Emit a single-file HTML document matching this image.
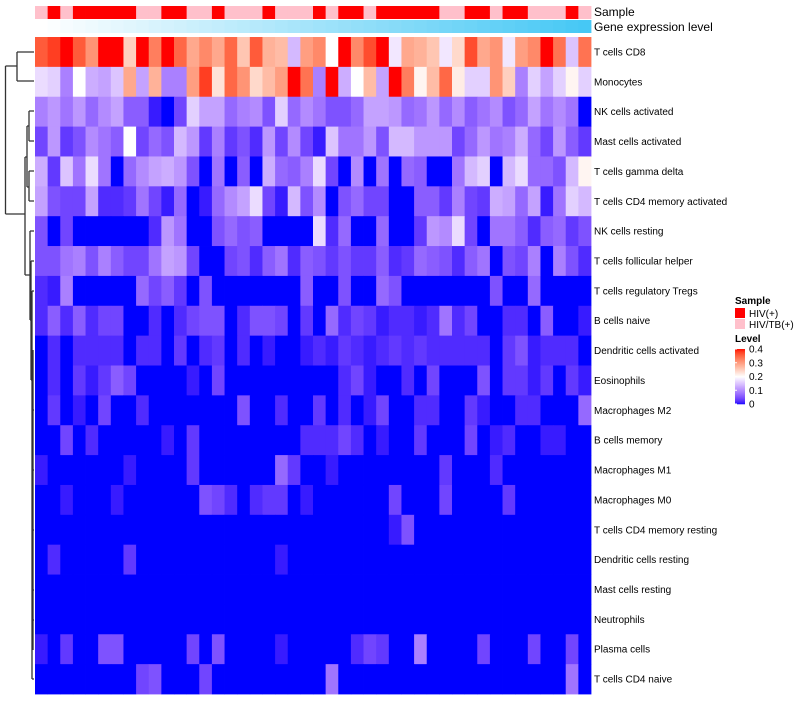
<!DOCTYPE html>
<html><head><meta charset="utf-8">
<style>
body{margin:0;background:#fff;font-family:"Liberation Sans",sans-serif;}
svg text{font-family:"Liberation Sans",sans-serif;}
</style></head>
<body>
<svg id="chart" width="800" height="700" xmlns="http://www.w3.org/2000/svg">
  <g id="dendro" stroke="#333" stroke-width="1.3" fill="none">
    <path d="M5.5,66 V214 M5.5,66 H17 M5.5,214 H25"/>
    <path d="M17,52 V81 M17,52 H34 M17,81 H34"/>
    <path d="M25,157 V275 M25,157 H27 M25,275 H30"/>
    <path d="M27,126 V187 M27,126 H29 M27,187 H29"/>
    <path d="M29,111 V141 M29,111 H34 M29,141 H34"/>
    <path d="M29,171 V201 M29,171 H34 M29,201 H34"/>
    <path d="M30,231 V320 M30,231 H34 M30,320 H31"/>
    <path d="M31,261 V380 M31,261 H34 M31,380 H32"/>
    <path d="M32,291 V679 M32,291 H34 M32,679 H34"/>
    <path d="M33,350 V650 M33,410 H34 M33,470 H34 M33,530 H34 M33,590 H34 M33,620 H34"/>
  </g>
  <g id="annot"></g>
  <g id="cells"></g>
  <g id="rowlabels" font-size="10" fill="#000"></g>
  <text x="594" y="16" font-size="12">Sample</text>
  <text x="594" y="31" font-size="12">Gene expression level</text>
  <g>
    <text x="735" y="304" font-size="10" font-weight="bold">Sample</text>
    <rect x="735" y="308" width="10" height="10" fill="#ff0000"/>
    <text x="749" y="317" font-size="10">HIV(+)</text>
    <rect x="735" y="319" width="10" height="10" fill="#ffc0cb"/>
    <text x="749" y="328" font-size="10">HIV/TB(+)</text>
    <text x="735" y="342" font-size="10" font-weight="bold">Level</text>
    <g id="colorbar"></g>
  </g>
</svg>
<script>
const rowNames=["T cells CD8","Monocytes","NK cells activated","Mast cells activated","T cells gamma delta","T cells CD4 memory activated","NK cells resting","T cells follicular helper","T cells regulatory  Tregs","B cells naive","Dendritic cells activated","Eosinophils","Macrophages M2","B cells memory","Macrophages M1","Macrophages M0","T cells CD4 memory resting","Dendritic cells resting","Mast cells resting","Neutrophils","Plasma cells","T cells CD4 naive"];
// 1 = HIV(+), 0 = HIV/TB(+)
const sampleGroup=[0,1,0,1,1,1,1,1,0,0,1,1,0,0,1,0,0,0,1,0,0,0,1,0,1,1,0,1,1,1,1,1,0,0,1,1,0,1,1,0,0,0,1,0];
const rowCD8=[0.36,0.38,0.4,0.36,0.31,0.4,0.4,0.25,0.4,0.33,0.4,0.35,0.29,0.32,0.29,0.35,0.26,0.36,0.28,0.27,0.14,0.3,0.32,0.2,0.4,0.32,0.37,0.4,0.18,0.29,0.28,0.26,0.18,0.24,0.37,0.29,0.31,0.18,0.3,0.32,0.4,0.34,0.15,0.34];
const rowMono=[0.17,0.16,0.09,0.2,0.13,0.12,0.15,0.29,0.12,0.28,0.09,0.09,0.3,0.38,0.23,0.35,0.31,0.24,0.27,0.3,0.4,0.34,0.09,0.4,0.13,0.2,0.27,0.12,0.4,0.33,0.21,0.27,0.35,0.22,0.16,0.16,0.31,0.25,0.09,0.16,0.12,0.16,0.21,0.16];
const rowNKa=[0.09,0.11,0.08,0.11,0.07,0.1,0.12,0.06,0.06,0.01,0,0.04,0.16,0.12,0.12,0.07,0.09,0.1,0.05,0.16,0.07,0.1,0.08,0.05,0.05,0.07,0.12,0.12,0.11,0.07,0.08,0.11,0.07,0.1,0.06,0.08,0.1,0.05,0.07,0.12,0.08,0.1,0.08,0];
const rowMastA=[0.04,0.11,0.03,0.05,0.1,0.08,0.06,0.2,0.04,0.07,0.05,0.14,0.11,0.03,0.09,0.03,0.05,0.02,0.11,0.04,0.1,0.04,0.01,0.15,0.08,0.08,0.11,0.05,0.14,0.14,0.11,0.11,0.11,0.04,0.07,0.11,0.08,0.09,0.13,0.07,0.04,0.11,0.06,0.03];
const rowGD=[0.13,0.03,0.15,0.08,0.17,0.08,0,0.07,0.1,0.12,0.13,0.11,0.05,0,0.08,0,0.06,0,0.13,0.07,0.06,0.09,0.17,0.04,0,0.1,0,0.08,0,0.07,0.06,0,0,0.08,0.14,0.16,0,0.14,0.17,0.07,0.07,0.05,0.14,0.21];
const rowCD4ma=[0.12,0.05,0.04,0.04,0.12,0.02,0.02,0.03,0.08,0.04,0.01,0.07,0,0.01,0.07,0.1,0.12,0.17,0.04,0.01,0.14,0.05,0.1,0,0.05,0.07,0.04,0.04,0,0,0.06,0.06,0.03,0.09,0.04,0.03,0.13,0.12,0.07,0.12,0.01,0.08,0.16,0.14];
const rowNKr=[0.05,0,0.04,0,0,0,0,0,0,0.02,0.11,0.08,0,0,0.05,0.07,0.05,0.06,0,0,0,0,0.17,0.02,0.07,0,0,0.07,0,0,0.03,0.11,0.1,0.17,0.04,0,0.08,0.08,0.06,0.02,0.06,0.07,0.03,0.05];
const rowTfh=[0.05,0.05,0.08,0.09,0.05,0.09,0.06,0.04,0.04,0.08,0.12,0.11,0.04,0,0,0.04,0.05,0.02,0.06,0.08,0.02,0.06,0.05,0.03,0.05,0.03,0.03,0.06,0.02,0.03,0.07,0.06,0.05,0.02,0.06,0.08,0,0.05,0.04,0.09,0,0.09,0.05,0.02];
const rowTreg=[0.02,0.01,0.09,0,0,0,0,0,0.07,0.04,0.06,0.03,0,0.05,0,0,0,0,0,0,0,0.06,0,0,0.05,0,0,0.07,0.05,0,0,0,0,0,0,0,0.05,0,0,0.07,0,0,0,0];
const rowBn=[0.02,0.06,0.02,0.06,0.02,0.04,0.04,0,0,0.02,0,0.02,0.04,0.05,0.05,0,0.02,0.05,0.05,0.04,0,0.03,0,0.07,0.02,0.04,0.03,0.01,0.02,0.02,0.01,0.02,0.08,0.02,0.04,0,0,0.02,0.02,0,0.06,0,0,0.01];
const rowDCa=[0,0.02,0,0.02,0.02,0.02,0.02,0,0.02,0.02,0,0.03,0,0.02,0.03,0,0.02,0,0.01,0,0,0.01,0.02,0.01,0.03,0.02,0.01,0.02,0.03,0.02,0.03,0.02,0.02,0.02,0.02,0.02,0,0.03,0.05,0.01,0.02,0.02,0.02,0];
const rowEos=[0,0.02,0,0.03,0.01,0.03,0.06,0.04,0,0,0,0,0.01,0,0.04,0,0,0,0,0,0,0,0,0,0.02,0.04,0.01,0,0,0.02,0,0.04,0,0,0,0.05,0,0.03,0.03,0.01,0.03,0,0.03,0.01];
const rowM2=[0,0.03,0,0.01,0,0.04,0,0,0.02,0,0,0,0,0,0,0,0.05,0,0,0.02,0,0,0.03,0,0.02,0,0.01,0.04,0,0,0.02,0.02,0,0,0.03,0.01,0,0,0.02,0.02,0,0,0,0.07];
const rowBm=[0,0,0.04,0,0.02,0,0,0,0,0,0.01,0,0.03,0,0,0,0,0,0,0,0,0.02,0.02,0.02,0.04,0.02,0,0.01,0,0,0.03,0,0,0,0.04,0,0.01,0.02,0,0,0.01,0.01,0,0];
const rowM1=[0.01,0,0,0,0,0,0,0.01,0,0,0,0,0.03,0,0,0,0,0,0,0.07,0.03,0,0,0.01,0,0,0,0,0,0,0,0,0.03,0,0,0,0.02,0,0,0,0,0,0,0];
const rowM0=[0,0,0.01,0,0,0,0.01,0,0,0,0,0,0,0.05,0.04,0.02,0,0.02,0.03,0.03,0,0.01,0,0,0,0,0,0,0.04,0,0,0,0.04,0,0,0,0,0.03,0,0,0,0,0,0];
const rowCD4mr=[0,0,0,0,0,0,0,0,0,0,0,0,0,0,0,0,0,0,0,0,0,0,0,0,0,0,0,0,0.01,0.05,0,0,0,0,0,0,0,0,0,0,0,0,0,0];
const rowDCr=[0,0.02,0,0,0,0,0,0.03,0,0,0,0,0,0,0,0,0,0,0,0.01,0,0,0,0,0,0,0,0,0,0,0,0,0,0,0,0,0,0,0,0,0,0,0,0];
const rowMastR=[0,0,0,0,0,0,0,0,0,0,0,0,0,0,0,0,0,0,0,0,0,0,0,0,0,0,0,0,0,0,0,0,0,0,0,0,0,0,0,0,0,0,0,0];
const rowNeut=[0,0,0,0,0,0,0,0,0,0,0,0,0,0,0,0,0,0,0,0,0,0,0,0,0,0,0,0,0,0,0,0,0,0,0,0,0,0,0,0,0,0,0,0];
const rowPlasma=[0.01,0,0.03,0,0,0.05,0.05,0,0,0,0,0,0.04,0,0.05,0,0,0,0,0.01,0,0,0,0,0,0.02,0.04,0.03,0,0,0.09,0,0,0,0,0.04,0,0,0,0.04,0,0,0.04,0];
const rowCD4n=[0,0,0,0,0,0,0,0,0.04,0.05,0,0,0,0.04,0,0,0,0,0,0,0,0,0,0.08,0,0,0,0,0,0,0,0,0,0,0,0,0,0,0,0,0,0,0.08,0];
const rows=[rowCD8,rowMono,rowNKa,rowMastA,rowGD,rowCD4ma,rowNKr,rowTfh,rowTreg,rowBn,rowDCa,rowEos,rowM2,rowBm,rowM1,rowM0,rowCD4mr,rowDCr,rowMastR,rowNeut,rowPlasma,rowCD4n];
const legendTicks=[0,0.1,0.2,0.3,0.4];

const NS="http://www.w3.org/2000/svg";
const X0=35,X1=591,Y0=37,Y1=694;
const nCol=sampleGroup.length,nRow=rows.length;
const cw=(X1-X0)/nCol,rh=(Y1-Y0)/nRow;
const xPos=i=>X0+i*cw, yPos=j=>Y0+j*rh;

function toLin(c){c/=255;return c<=0.04045?c/12.92:Math.pow((c+0.055)/1.055,2.4);}
function fromLin(c){c=c<=0.0031308?12.92*c:1.055*Math.pow(c,1/2.4)-0.055;return Math.max(0,Math.min(255,Math.round(c*255)));}
function rgb2lab(r,g,b){r=toLin(r);g=toLin(g);b=toLin(b);
 let x=(r*0.4124+g*0.3576+b*0.1805)/0.95047,y=r*0.2126+g*0.7152+b*0.0722,z=(r*0.0193+g*0.1192+b*0.9505)/1.08883;
 const f=t=>t>0.008856?Math.cbrt(t):7.787*t+16/116;x=f(x);y=f(y);z=f(z);
 return [116*y-16,500*(x-y),200*(y-z)];}
function lab2rgb(L,a,bb){let y=(L+16)/116,x=a/500+y,z=y-bb/200;
 const fi=t=>t*t*t>0.008856?t*t*t:(t-16/116)/7.787;x=fi(x)*0.95047;y=fi(y);z=fi(z)*1.08883;
 const r=x*3.2406+y*-1.5372+z*-0.4986,g=x*-0.9689+y*1.8758+z*0.0415,b=x*0.0557+y*-0.2040+z*1.0570;
 return `rgb(${fromLin(r)},${fromLin(g)},${fromLin(b)})`;}
const stops=[[0,rgb2lab(0,0,255)],[0.2,rgb2lab(255,255,255)],[0.4,rgb2lab(255,0,0)]];
function color(v){v=Math.max(0,Math.min(0.4,v));let k=v<=0.2?0:1;const a=stops[k],b=stops[k+1];const t=(v-a[0])/(b[0]-a[0]);
 return lab2rgb(a[1][0]+t*(b[1][0]-a[1][0]),a[1][1]+t*(b[1][1]-a[1][1]),a[1][2]+t*(b[1][2]-a[1][2]));}

const cells=document.getElementById('cells');
rows.forEach((r,j)=>r.forEach((v,i)=>{
 const el=document.createElementNS(NS,'rect');
 el.setAttribute('x',xPos(i));el.setAttribute('y',yPos(j));
 el.setAttribute('width',cw+0.4);el.setAttribute('height',rh+0.4);
 el.setAttribute('fill',color(v));
 
 
 cells.appendChild(el);
}));
const rl=document.getElementById('rowlabels');
rowNames.forEach((n,j)=>{
 const t=document.createElementNS(NS,'text');
 t.setAttribute('x',594);t.setAttribute('y',yPos(j)+rh/2+3.5);t.textContent=n;
 
 
 rl.appendChild(t);
});
const an=document.getElementById('annot');
sampleGroup.forEach((g,i)=>{
 const el=document.createElementNS(NS,'rect');
 el.setAttribute('x',xPos(i));el.setAttribute('y',6);el.setAttribute('width',cw+0.4);el.setAttribute('height',13);
 el.setAttribute('fill',g?'#ff0000':'#ffc0cb');
 
 
 an.appendChild(el);
 const e2=document.createElementNS(NS,'rect');
 const t=i/(nCol-1);
 e2.setAttribute('x',xPos(i));e2.setAttribute('y',20);e2.setAttribute('width',cw+0.4);e2.setAttribute('height',13);
 e2.setAttribute('fill',`rgb(${Math.round(255-t*185)},${Math.round(255-t*55)},${Math.round(255-t*10)})`);
 
 
 an.appendChild(e2);
});
const cb=document.getElementById('colorbar');
const CB0=404,CB1=349;
for(let k=0;k<55;k++){
 const v=0.4*(k+0.5)/55;
 const el=document.createElementNS(NS,'rect');
 el.setAttribute('x',735);el.setAttribute('y',CB0-(k+1)*(CB0-CB1)/55);el.setAttribute('width',10);el.setAttribute('height',(CB0-CB1)/55+0.3);
 el.setAttribute('fill',color(v));
 
 
 cb.appendChild(el);
}
legendTicks.forEach(v=>{
 const y=CB0-(v/0.4)*(CB0-CB1);
 const l=document.createElementNS(NS,'line');
 l.setAttribute('x1',735);l.setAttribute('x2',737);l.setAttribute('y1',y);l.setAttribute('y2',y);l.setAttribute('stroke','#fff');
 
 
 cb.appendChild(l);
 const t=document.createElementNS(NS,'text');
 t.setAttribute('x',749);t.setAttribute('y',y+3.5);t.setAttribute('font-size','10');t.textContent=String(v);
 
 
 cb.appendChild(t);
});
</script>
</body></html>
